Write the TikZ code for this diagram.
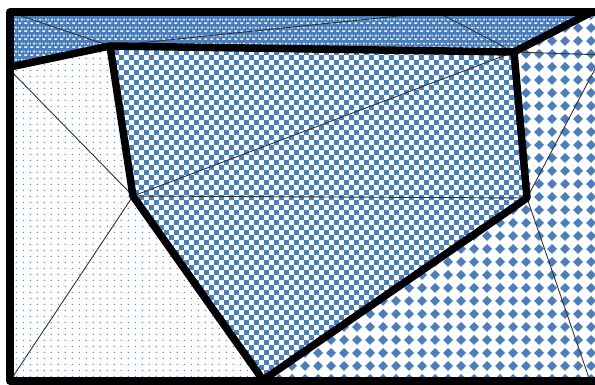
\documentclass[tikz,border=0pt]{standalone}
\usetikzlibrary{patterns.meta}
\definecolor{pblue}{RGB}{74,126,190}
\tikzdeclarepattern{
  name=mychecks, type=uncolored,
  bounding box={(0pt,0pt) and (10.4pt,10.4pt)},
  tile size={(10.4pt,10.4pt)},
  code={
    \fill (0pt,0pt) rectangle (5.2pt,5.2pt);
    \fill (5.2pt,5.2pt) rectangle (10.4pt,10.4pt);
  }
}
\tikzdeclarepattern{
  name=mydiamonds, type=uncolored,
  bounding box={(0pt,0pt) and (13pt,13pt)},
  tile size={(13pt,13pt)},
  code={
    \fill (6.5pt,1.2pt) -- (11.8pt,6.5pt) -- (6.5pt,11.8pt) -- (1.2pt,6.5pt) -- cycle;
  }
}
\tikzdeclarepattern{
  name=mydots, type=uncolored,
  bounding box={(0pt,0pt) and (6.8pt,6pt)},
  tile size={(6.8pt,6pt)},
  code={
    \fill (3.4pt,3pt) circle (0.8pt);
  }
}
\tikzdeclarepattern{
  name=mydashes, type=uncolored,
  bounding box={(0pt,0pt) and (6pt,8pt)},
  tile size={(6pt,8pt)},
  code={
    \fill (0.3pt,1.2pt) rectangle (3.6pt,2.8pt);
    \fill (3.3pt,5.2pt) rectangle (6pt,6.8pt);
    \fill (0pt,5.2pt) rectangle (0.6pt,6.8pt);
  }
}
\tikzset{
  thick line/.style={line width=7.5pt, line join=round, line cap=round},
  thin line/.style={line width=0.9pt, black!80},
  topfill/.style={fill=pblue, postaction={pattern=mydashes, pattern color=white}},
  leftfill/.style={fill=white, postaction={pattern=mydots, pattern color=pblue!90}},
  innerfill/.style={fill=white, postaction={pattern=mychecks, pattern color=pblue}},
  rightfill/.style={fill=white, postaction={pattern=mydiamonds, pattern color=pblue}},
}
\begin{document}
\begin{tikzpicture}[x=1pt,y=-1pt]
\useasboundingbox (0,0) rectangle (595,385);
% key points
\coordinate (TL) at (10,12);
\coordinate (TR) at (605,12);
\coordinate (T2) at (592,12);
\coordinate (BL) at (10,381);
\coordinate (BR) at (605,381);
\coordinate (L) at (10,67);
\coordinate (A) at (110,46);
\coordinate (B) at (514,52);
\coordinate (C) at (527,198);
\coordinate (D) at (263,380);
\coordinate (E) at (133,196);
\coordinate (M) at (437,12);
\coordinate (L2) at (10,70);
\coordinate (R1) at (605,55);
\coordinate (R2) at (605,50);
\coordinate (R3) at (590,381);
% regions
\path[topfill] (TL) -- (T2) -- (B) -- (A) -- (L) -- cycle;
\path[rightfill] (T2) -- (TR) -- (BR) -- (D) -- (C) -- (B) -- cycle;
\path[leftfill] (L) -- (A) -- (E) -- (D) -- (BL) -- cycle;
\path[innerfill] (A) -- (B) -- (C) -- (D) -- (E) -- cycle;
% thin lines
\draw[thin line] (TL) -- (A);
\draw[thin line] (A) -- (M) -- (B);
\draw[thin line] (L2) -- (E) -- (BL);
\draw[thin line] (E) -- (B);
\draw[thin line] (E) -- (C);
\draw[thin line] (B) -- (R1);
\draw[thin line] (C) -- (R2);
\draw[thin line] (C) -- (R3);
% thick lines
\draw[thick line] (L) -- (A);
\draw[thick line] (A) -- (B) -- (C) -- (D) -- (E) -- cycle;
\draw[thick line] (B) -- (T2);
\draw[thick line] (TR) -- (TL) -- (BL) -- (BR);
\end{tikzpicture}
\end{document}
